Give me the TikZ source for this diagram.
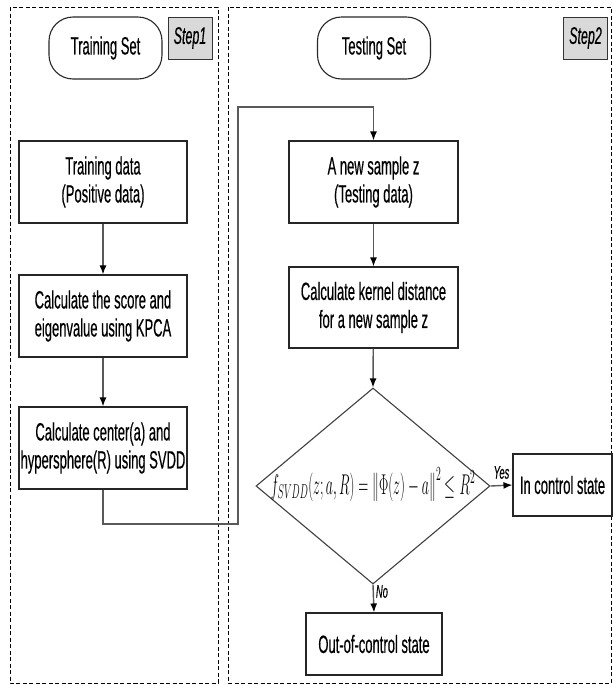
\documentclass[tikz,border=0pt]{standalone}
\usepackage{fix-cm}
\usepackage{fontspec}
\setmainfont{Liberation Sans}[FakeStretch=0.52,FakeBold=0.4]
\usetikzlibrary{shapes.geometric,arrows.meta}

\begin{document}
\begin{tikzpicture}[x=1pt,y=-1pt,
  box/.style={rectangle,draw=black!85,line width=1.1pt,align=center,inner sep=0pt,font=\fontsize{25}{28}\selectfont},
  pill/.style={box,rounded corners=24pt,minimum width=113pt,minimum height=62pt},
  stepbox/.style={rectangle,draw=black!80,fill=black!15,line width=1pt,inner sep=0pt,minimum width=44pt,minimum height=42pt,font=\fontsize{24}{26}\selectfont\itshape},
  conn/.style={draw=black!65,line width=1.4pt,-{Latex[length=9pt,width=7pt,black]}},
  frame/.style={draw=black,line width=1pt,dash pattern=on 4pt off 2.5pt},
  tag/.style={inner sep=0pt,font=\fontsize{18}{20}\selectfont\itshape}]
\useasboundingbox (0,0) rectangle (613,686);

\draw[frame] (10,7) rectangle (218,683);
\draw[frame] (228,7) rectangle (611,683);

\node[pill] (trainset) at (105.5,48) {Training Set};
\node[stepbox] (step1) at (190,38) {Step1};
\node[pill] (testset) at (374,48) {Testing Set};
\node[stepbox] (step2) at (585.5,38) {Step2};

\node[box,minimum width=168pt,minimum height=82pt] (train) at (103,182) {Training data\\(Positive data)};
\node[box,minimum width=168pt,minimum height=82pt] (score) at (103,316) {Calculate the score and\\eigenvalue using KPCA};
\node[box,minimum width=168pt,minimum height=82pt] (svdd) at (103,448) {Calculate center(a) and\\hypersphere(R) using SVDD};

\node[box,minimum width=169pt,minimum height=82pt] (sample) at (373.5,182) {A new sample z\\(Testing data)};
\node[box,minimum width=169pt,minimum height=81pt] (kernel) at (373.5,307.5) {Calculate kernel distance\\for a new sample z};
\node[diamond,draw=black!75,line width=1.1pt,inner sep=0pt,minimum width=234pt,minimum height=196pt] (dec) at (373,486)
  {\makebox[0pt]{\raisebox{-8pt}[0pt][0pt]{\scalebox{0.63}[1.3]{\fontsize{22}{26}\selectfont$f_{SVDD}(z;a,R)=\left\|\Phi(z)-a\right\|^2\le R^2$}}}};
\node[box,minimum width=99pt,minimum height=62pt] (inctrl) at (562.5,485) {In control state};
\node[box,minimum width=136pt,minimum height=62pt] (outctrl) at (374,644) {Out-of-control state};

\coordinate (turnA) at (238,524);
\coordinate (turnB) at (238,107);

\draw[conn] (train) -- (score);
\draw[conn] (score) -- (svdd);
\draw[conn] (svdd.south) |- (turnA) -- (turnB) -| (sample.north);
\draw[conn] (sample) -- (kernel);
\draw[conn] (kernel) -- (dec.north);
\draw[conn] (dec.east) -- node[tag,above=6pt] {Yes} (inctrl.west);
\draw[conn] (dec.south) -- node[tag,right=2pt,pos=0.25] {No} (outctrl.north);
\end{tikzpicture}
\end{document}
